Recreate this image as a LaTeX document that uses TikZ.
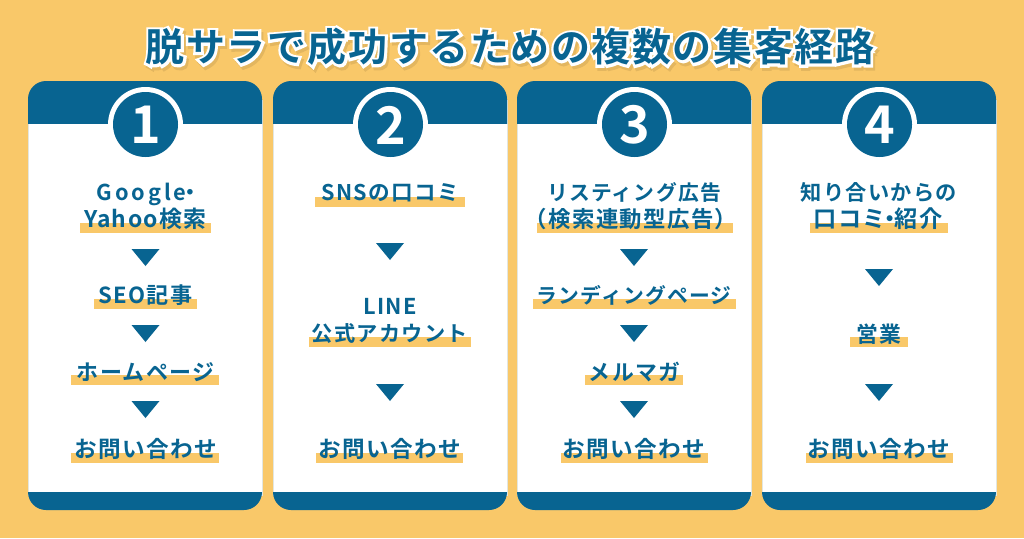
\documentclass[tikz,border=0pt]{standalone}
\usepackage{fontspec}
\newfontfamily\jp[LetterSpace=6]{Noto Sans CJK JP Bold}
\newfontfamily\jpwide[LetterSpace=13]{Noto Sans CJK JP Bold}
\newfontfamily\jptitle[LetterSpace=4]{Noto Sans CJK JP Bold}
\newfontfamily\jphalo[LetterSpace=4,FakeBold=13]{Noto Sans CJK JP Bold}
\newfontfamily\numf{Noto Sans CJK JP Bold}
\definecolor{bgc}{HTML}{F9C869}
\definecolor{bluec}{HTML}{086491}
\definecolor{edgec}{HTML}{E2E6E0}
\definecolor{shadowc}{HTML}{E3B65F}
\newcommand{\titletext}{脱サラで成功するための複数の集客経路}
\newcommand{\mdot}{\kern-.32em・\kern-.32em}
\tikzset{
  x=1pt,y=-1pt,
  hl/.style={fill=bgc},
  lab/.style={anchor=base,inner sep=0pt,text=bluec,font={\jp\fontsize{#1}{22}\selectfont}},
  lab/.default=21.8,
  labw/.style={anchor=base,inner sep=0pt,text=bluec,font={\jpwide\fontsize{#1}{22}\selectfont}},
  labw/.default=21.8,
  num/.style={anchor=center,inner sep=0pt,text=white,font={\numf\fontsize{52}{52}\selectfont}},
  tri/.style={fill=bluec},
  ttl/.style={anchor=center,inner sep=0pt,font={\jptitle\fontsize{39}{39}\selectfont}},
  halo/.style={anchor=center,inner sep=0pt,font={\jphalo\fontsize{39}{39}\selectfont}},
}
\newcommand{\card}[3]{% name, left x, number
  \fill[white,draw=edgec,line width=0.8pt] (#2,100) -- (#2+234,100) -- (#2+234,495) -- (#2,495) -- cycle;
  \fill[bluec,rounded corners=18pt] (#2,81) rectangle (#2+234,150);
  \fill[white] (#2-0.4,124) rectangle (#2+234.4,160);
  \fill[bluec,rounded corners=18pt] (#2,470) rectangle (#2+234,510);
  \fill[white] (#2-0.4,460) rectangle (#2+234.4,492);
  \draw[edgec,line width=0.8pt] (#2,124) -- (#2,492) (#2+234,124) -- (#2+234,492);
  \fill[white] (#2+117.5,124.5) circle[radius=37.5];
  \fill[bluec] (#2+117.5,124.5) circle[radius=32.5];
  \node[num] (#1) at (#2+117.5,125) {#3};
}
\newcommand{\tridown}[2]{\fill[tri] (#1-14,#2) -- (#1+14,#2) -- (#1,#2+17) -- cycle;}
\newcommand{\hlbar}[3]{\fill[hl] (#1,#2) rectangle (#3,#2+10);}
\begin{document}
\begin{tikzpicture}
\useasboundingbox (0,0) rectangle (1024,538);
\fill[bgc] (0,0) rectangle (1024,538);
% title
\node[halo,text=shadowc] (titleshadow) at (512,50) {\titletext};
\node[halo,text=white] (titlehalo) at (510,47) {\titletext};
\node[ttl,text=bluec] (title) at (510,47) {\titletext};
% cards
\card{n1}{28}{1}
\card{n2}{273}{2}
\card{n3}{517}{3}
\card{n4}{762}{4}
% card 1
\hlbar{80}{223}{211}\hlbar{94}{299}{197}\hlbar{71}{375}{219}\hlbar{71}{453}{219}
\node[labw=21.8] (a1) at (145.5,200) {Google\mdot};
\node[lab=22.9] (a2) at (145.5,227) {Yahoo検索};
\tridown{145.5}{249}
\node[lab=22.1] (a3) at (145.5,303) {SEO記事};
\tridown{145.5}{325}
\node[lab=22] (a4) at (145.5,380) {ホームページ};
\tridown{145.5}{401}
\node[lab=22.6] (a5) at (145.5,457) {お問い合わせ};
% card 2
\hlbar{315}{197}{465}\hlbar{309}{337}{471}\hlbar{316}{453}{463}
\node[lab=21.6] (b1) at (390,200) {SNSの口コミ};
\tridown{390}{243}
\node[lab] (b2) at (390,314) {LINE};
\node[lab=21.2] (b3) at (390,341) {公式アカウント};
\tridown{390}{384}
\node[lab=22.6] (b4) at (390,457) {お問い合わせ};
% card 3
\hlbar{537}{223}{733}\hlbar{533}{299}{736}\hlbar{585}{375}{683}\hlbar{561}{453}{708}
\node[lab=20.8] (c1) at (634,200) {リスティング広告};
\node[lab=22.4] (c2) at (631,227) {（検索連動型広告）};
\tridown{634}{249}
\node[lab=20.8] (c3) at (634,303) {ランディングページ};
\tridown{634}{325}
\node[lab] (c4) at (634.5,380) {メルマガ};
\tridown{634}{401}
\node[lab=22.6] (c5) at (634,457) {お問い合わせ};
% card 4
\hlbar{810}{223}{948}\hlbar{850}{337}{908}\hlbar{806}{453}{953}
\node[lab=21.2] (d1) at (879,200) {知り合いからの};
\node[lab=23.2] (d2) at (878,227) {口コミ\mdot 紹介};
\tridown{879}{269}
\node[lab] (d3) at (879,342) {営業};
\tridown{879}{384}
\node[lab=22.6] (d4) at (879,457) {お問い合わせ};
\end{tikzpicture}
\end{document}
